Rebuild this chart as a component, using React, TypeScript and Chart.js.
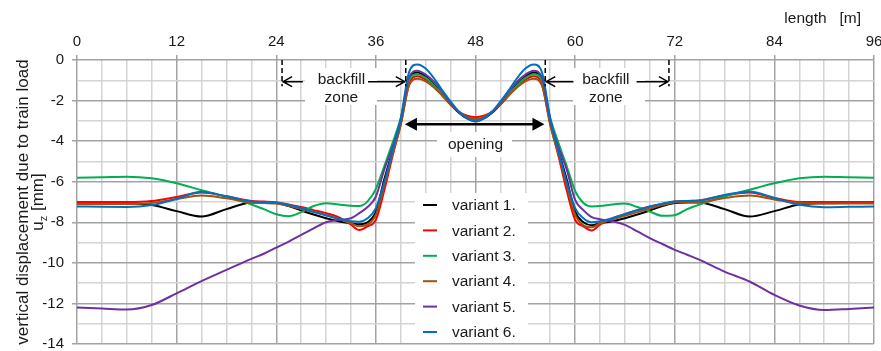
import React, { useEffect, useRef } from "react";
import { Chart, registerables } from "chart.js";

Chart.register(...registerables);

const FONT = "'Liberation Sans', Arial, Helvetica, sans-serif";

// position along the track [m]
const positions = [
  0, 3, 6, 9, 12, 15, 18, 21, 22.5, 24, 25.5, 27, 28.5, 30, 31.5, 33, 34, 35, 36, 37, 38, 39, 40, 41, 42, 43, 44, 45, 46, 47, 48,
  49, 50, 51, 52, 53, 54, 55, 56, 57, 58, 59, 60, 61, 62, 63, 64.5, 66, 67.5, 69, 70.5, 72, 73.5, 75, 78, 81, 84, 87, 90, 93, 96,
];

// vertical displacement u_z [mm]
const variant1 = [
  -7.05, -7.05, -7.07, -7.15, -7.45, -7.72, -7.35, -7.03, -7.02, -7.05, -7.2, -7.42, -7.62, -7.8, -7.95, -8.05, -8.1, -8.0, -7.48, -5.9, -4.5, -3.05, -0.95, -0.62, -0.82, -1.2, -1.7, -2.2, -2.6, -2.88, -2.95,
  -2.88, -2.6, -2.2, -1.7, -1.2, -0.82, -0.62, -0.95, -3.05, -4.5, -5.9, -7.48, -8.0, -8.15, -8.05, -7.95, -7.8, -7.62, -7.42, -7.2, -7.05, -7.02, -7.03, -7.35, -7.72, -7.45, -7.12, -7.06, -7.05, -7.05,
];
const variant2 = [
  -7.0, -7.0, -7.0, -6.95, -6.75, -6.53, -6.72, -6.95, -6.98, -7.02, -7.12, -7.25, -7.4, -7.55, -7.75, -8.12, -8.38, -8.2, -7.88, -6.45, -4.75, -3.15, -1.2, -0.8, -0.97, -1.3, -1.75, -2.2, -2.55, -2.75, -2.82,
  -2.75, -2.55, -2.2, -1.75, -1.3, -0.97, -0.8, -1.2, -3.15, -4.75, -6.45, -7.88, -8.2, -8.4, -8.12, -7.8, -7.6, -7.4, -7.22, -7.1, -6.98, -6.95, -6.92, -6.68, -6.53, -6.8, -7.0, -7.0, -7.0, -7.0,
];
const variant3 = [
  -5.81, -5.78, -5.75, -5.83, -6.08, -6.42, -6.75, -7.12, -7.35, -7.6, -7.7, -7.5, -7.2, -7.06, -7.12, -7.19, -7.2, -6.97, -6.35, -5.25, -4.1, -2.85, -1.0, -0.7, -0.88, -1.25, -1.7, -2.15, -2.55, -2.85, -2.93,
  -2.85, -2.55, -2.15, -1.7, -1.25, -0.88, -0.7, -1.0, -2.85, -4.1, -5.25, -6.45, -7.05, -7.22, -7.2, -7.12, -7.08, -7.25, -7.47, -7.68, -7.65, -7.35, -7.12, -6.73, -6.4, -6.08, -5.83, -5.75, -5.78, -5.81,
];
const variant4 = [
  -7.1, -7.1, -7.1, -7.05, -6.85, -6.68, -6.82, -7.02, -7.05, -7.08, -7.2, -7.35, -7.5, -7.65, -7.85, -8.05, -8.2, -8.12, -7.62, -6.2, -4.65, -3.2, -1.25, -0.93, -1.05, -1.35, -1.75, -2.2, -2.55, -2.8, -2.9,
  -2.8, -2.55, -2.2, -1.75, -1.35, -1.05, -0.93, -1.25, -3.2, -4.65, -6.2, -7.62, -8.15, -8.25, -8.05, -7.85, -7.68, -7.5, -7.32, -7.15, -7.02, -7.0, -7.0, -6.8, -6.68, -6.88, -7.05, -7.08, -7.08, -7.08,
];
const variant5 = [
  -12.2, -12.25, -12.3, -12.08, -11.5, -10.9, -10.35, -9.8, -9.55, -9.25, -8.95, -8.62, -8.3, -8.0, -7.88, -7.8, -7.55, -7.25, -6.73, -5.42, -4.3, -2.95, -0.85, -0.53, -0.72, -1.07, -1.55, -2.1, -2.55, -2.88, -3.03,
  -2.88, -2.55, -2.1, -1.55, -1.07, -0.72, -0.53, -0.85, -2.95, -4.3, -5.42, -6.9, -7.4, -7.75, -7.85, -7.95, -8.13, -8.45, -8.78, -9.07, -9.36, -9.6, -9.85, -10.43, -10.92, -11.58, -12.1, -12.32, -12.27, -12.2,
];
const variant6 = [
  -7.22, -7.24, -7.25, -7.15, -6.85, -6.5, -6.72, -6.97, -7.0, -7.02, -7.15, -7.3, -7.48, -7.65, -7.82, -7.95, -7.97, -7.8, -7.3, -6.05, -4.5, -2.9, -0.6, -0.22, -0.42, -0.9, -1.5, -2.05, -2.55, -2.88, -3.0,
  -2.88, -2.55, -2.05, -1.5, -0.9, -0.42, -0.22, -0.6, -2.9, -4.5, -6.05, -7.3, -7.8, -8.0, -7.95, -7.8, -7.6, -7.4, -7.22, -7.08, -6.97, -6.95, -6.92, -6.65, -6.48, -6.8, -7.14, -7.26, -7.24, -7.22,
];

const seriesValues = [variant1, variant2, variant3, variant4, variant5, variant6];
const seriesNames = ["variant 1.", "variant 2.", "variant 3.", "variant 4.", "variant 5.", "variant 6."];
const seriesColors = ["#000000", "#ff0000", "#00b050", "#a0520f", "#7030a0", "#0070c0"];

const xAxisMajorStep = 12;
const yAxisMajorStep = 2;
const xAxisTitle = "length   [m]";
const yAxisTitle = "vertical displacement due to train load";
const annotationBackfill = ["backfill", "zone"];
const annotationOpening = "opening";

const MAJOR = "#a3a3a3";
const MINOR = "#d4d4d4";

function openArrow(ctx: CanvasRenderingContext2D, x1: number, y: number, x2: number) {
  const dir = Math.sign(x2 - x1);
  ctx.beginPath();
  ctx.moveTo(x1, y);
  ctx.lineTo(x2, y);
  ctx.moveTo(x2 - dir * 9, y - 5);
  ctx.lineTo(x2, y);
  ctx.lineTo(x2 - dir * 9, y + 5);
  ctx.stroke();
}

function filledHead(ctx: CanvasRenderingContext2D, tip: number, y: number, dir: number) {
  ctx.beginPath();
  ctx.moveTo(tip, y);
  ctx.lineTo(tip - dir * 12, y - 6.5);
  ctx.lineTo(tip - dir * 12, y + 6.5);
  ctx.closePath();
  ctx.fill();
}

const overlayPlugin = {
  id: "overlay",
  afterDraw(chart: any) {
    const ctx: CanvasRenderingContext2D = chart.ctx;
    const xs = chart.scales.x;
    const ys = chart.scales.y;
    const X = (v: number) => xs.getPixelForValue(v);
    const Y = (v: number) => ys.getPixelForValue(v);
    const area = chart.chartArea;
    ctx.save();

    // white label backgrounds
    ctx.fillStyle = "#ffffff";
    ctx.fillRect(305, 68, 72, 37);
    ctx.fillRect(573, 68, 72, 37);
    ctx.fillRect(437, 132, 75, 25);
    ctx.fillRect(415, 193, 113, area.bottom - 194);

    // dashed zone limits
    ctx.strokeStyle = "#000";
    ctx.lineWidth = 1.5;
    ctx.setLineDash([5, 3]);
    [24.7, 39.6, 56.4, 71.3].forEach((v) => {
      ctx.beginPath();
      ctx.moveTo(X(v), area.top);
      ctx.lineTo(X(v), Y(-1.3));
      ctx.stroke();
    });
    ctx.setLineDash([]);

    // backfill arrows
    const ay = Y(-1.07);
    ctx.lineWidth = 1.5;
    openArrow(ctx, X(27.2), ay, X(24.7) + 1);
    openArrow(ctx, X(35.05), ay, X(39.6) - 1);
    openArrow(ctx, X(59.8), ay, X(56.4) + 1);
    openArrow(ctx, X(67.4), ay, X(71.3) - 1);

    // opening arrow
    const oy = Y(-3.17);
    ctx.fillStyle = "#000";
    ctx.lineWidth = 2.5;
    ctx.beginPath();
    ctx.moveTo(X(39.5) + 8, oy);
    ctx.lineTo(X(56.3) - 8, oy);
    ctx.stroke();
    filledHead(ctx, X(39.5), oy, -1);
    filledHead(ctx, X(56.3), oy, 1);

    // annotation text
    ctx.fillStyle = "#1a1a1a";
    ctx.font = `15.5px ${FONT}`;
    ctx.textAlign = "center";
    ctx.textBaseline = "alphabetic";
    ctx.fillText(annotationBackfill[0], X(31.85), 84);
    ctx.fillText(annotationBackfill[1], X(31.85), 102);
    ctx.fillText(annotationBackfill[0], X(63.7), 84);
    ctx.fillText(annotationBackfill[1], X(63.7), 102);
    ctx.fillText(annotationOpening, X(48), 149);

    // legend
    ctx.textAlign = "left";
    ctx.textBaseline = "middle";
    chart.data.datasets.forEach((ds: any, i: number) => {
      const ry = 205 + i * 25.4;
      ctx.strokeStyle = ds.borderColor;
      ctx.lineWidth = 2;
      ctx.beginPath();
      ctx.moveTo(423, ry);
      ctx.lineTo(437, ry);
      ctx.stroke();
      ctx.fillStyle = "#1a1a1a";
      ctx.fillText(ds.label, 452, ry + 1);
    });

    // x axis title
    ctx.textAlign = "right";
    ctx.textBaseline = "alphabetic";
    ctx.fillText(xAxisTitle, 861, 23);

    // y axis title
    ctx.save();
    ctx.translate(28, (area.top + area.bottom) / 2);
    ctx.rotate(-Math.PI / 2);
    ctx.textAlign = "center";
    ctx.font = `17px ${FONT}`;
    ctx.fillText(yAxisTitle, 0, 0);
    // second line: u_z [mm]
    ctx.font = `17px ${FONT}`;
    const wU = ctx.measureText("u").width;
    ctx.font = `11px ${FONT}`;
    const wZ = ctx.measureText("z").width;
    ctx.font = `17px ${FONT}`;
    const wRest = ctx.measureText(" [mm]").width;
    const total = wU + wZ + wRest;
    let sx = -total / 2;
    const by = 15;
    ctx.textAlign = "left";
    ctx.fillText("u", sx, by);
    sx += wU;
    ctx.font = `11px ${FONT}`;
    ctx.fillText("z", sx, by + 4);
    sx += wZ;
    ctx.font = `17px ${FONT}`;
    ctx.fillText(" [mm]", sx, by);
    ctx.restore();

    ctx.restore();
  },
};

export default function App() {
  const canvasRef = useRef<HTMLCanvasElement | null>(null);

  useEffect(() => {
    document.body.style.margin = "0";
    const canvas = canvasRef.current;
    if (!canvas) return;
    const datasets = seriesValues.map((vals, i) => ({
      label: seriesNames[i],
      data: positions.map((x, j) => ({ x, y: vals[j] })),
      borderColor: seriesColors[i],
      backgroundColor: seriesColors[i],
      borderWidth: 2,
      pointRadius: 0,
      fill: false,
      cubicInterpolationMode: "monotone" as const,
      order: seriesValues.length - i,
    }));
    const chart = new Chart(canvas, {
      type: "line",
      data: { datasets },
      options: {
        animation: false,
        responsive: true,
        maintainAspectRatio: false,
        layout: { padding: { left: 0, top: 0, right: 7, bottom: 7 } },
        plugins: {
          legend: { display: false },
          tooltip: { enabled: false },
          title: { display: false },
        },
        scales: {
          x: {
            type: "linear",
            position: "top",
            min: 0,
            max: 96,
            ticks: {
              stepSize: 3,
              autoSkip: false,
              maxRotation: 0,
              padding: 4,
              color: "#1a1a1a",
              font: { family: FONT, size: 15 },
              callback: (v: any) => (Number(v) % xAxisMajorStep === 0 ? String(v) : ""),
            },
            grid: {
              color: (c: any) => (c.tick && c.tick.value % xAxisMajorStep !== 0 ? MINOR : MAJOR),
              tickColor: (c: any) => (c.tick && c.tick.value % xAxisMajorStep !== 0 ? "rgba(0,0,0,0)" : MAJOR),
              lineWidth: 1.5,
              tickLength: 5,
            },
            border: { display: false },
            afterFit: (s: any) => {
              s.height = 60;
              s.paddingLeft = 0;
              s.paddingRight = 0;
            },
          },
          y: {
            type: "linear",
            min: -14,
            max: 0,
            ticks: {
              stepSize: 1,
              autoSkip: false,
              padding: 8,
              color: "#1a1a1a",
              font: { family: FONT, size: 15 },
              callback: (v: any) => (Number(v) % yAxisMajorStep === 0 ? String(v) : ""),
            },
            grid: {
              color: (c: any) => (c.tick && c.tick.value % yAxisMajorStep !== 0 ? MINOR : MAJOR),
              tickColor: (c: any) => (c.tick && c.tick.value % yAxisMajorStep !== 0 ? "rgba(0,0,0,0)" : MAJOR),
              lineWidth: 1.5,
              tickLength: 5,
            },
            border: { display: false },
            afterFit: (s: any) => {
              s.width = 77;
              s.paddingTop = 0;
              s.paddingBottom = 0;
            },
          },
        },
      },
      plugins: [overlayPlugin],
    });
    return () => chart.destroy();
  }, []);

  return (
    <div style={{ width: 881, height: 351, position: "relative" }}>
      <canvas ref={canvasRef} />
    </div>
  );
}
